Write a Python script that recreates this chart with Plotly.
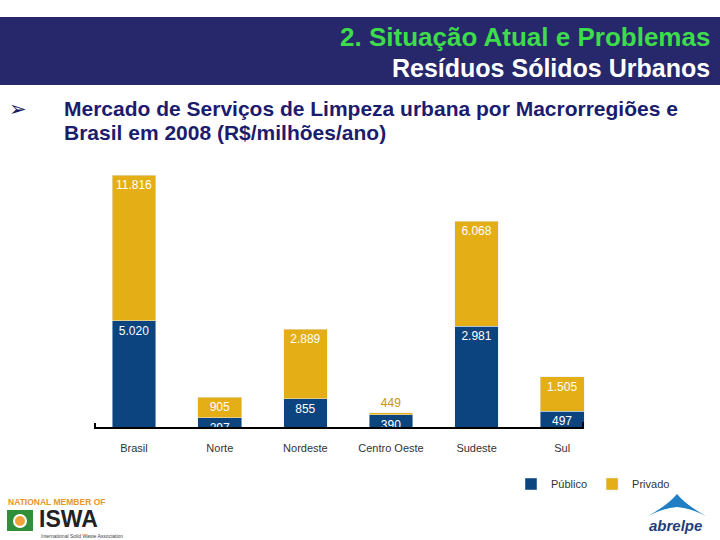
import plotly.graph_objects as go

# ---- data ----
regioes = ["Brasil", "Norte", "Nordeste", "Centro Oeste", "Sudeste", "Sul"]
publico = [5020, 297, 855, 390, 2981, 497]          # Público (R$ milhões/ano)
total = [11816, 905, 2889, 449, 6068, 1505]         # Total do mercado (rótulo no topo)
privado = [t - p for t, p in zip(total, publico)]   # Privado = total - público

AZUL = "#0b447e"
OURO = "#e4ae16"
NAVY = "#27276c"
W, H = 720, 540

def px(x):
    return x / W

def py(y):
    return 1 - y / H

fig = go.Figure()

# Brasil panel (x/y) and regions panel (x2/y2) -> broken scale like the original
panels = [(slice(0, 1), "x", "y"), (slice(1, 6), "x2", "y2")]
for i, (sl, xa, ya) in enumerate(panels):
    fig.add_trace(go.Bar(
        x=regioes[sl], y=publico[sl], name="Público", marker_color=AZUL,
        xaxis=xa, yaxis=ya, showlegend=(i == 0), legendgroup="pub",
        texttemplate="%{y:,.0f}", textposition="inside", insidetextanchor="end",
        textfont=dict(color="white", size=12, family="Liberation Sans"),
        hoverinfo="skip",
    ))
    tp = ["outside" if (t - p) < 150 else "inside" for t, p in zip(total[sl], publico[sl])]
    fig.add_trace(go.Bar(
        x=regioes[sl], y=privado[sl], name="Privado", marker_color=OURO,
        xaxis=xa, yaxis=ya, showlegend=(i == 0), legendgroup="pri",
        customdata=total[sl], texttemplate="%{customdata:,.0f}",
        textposition=tp, insidetextanchor="end",
        textfont=dict(color="white", size=12, family="Liberation Sans"),
        outsidetextfont=dict(color="#c9950c", size=12, family="Liberation Sans"),
        cliponaxis=False, hoverinfo="skip",
    ))

ydom = [py(428), py(170)]
axis_common = dict(showgrid=False, zeroline=False, showline=False,
                   ticks="outside", ticklen=10, tickcolor="rgba(0,0,0,0)",
                   tickfont=dict(size=11, color="#333333", family="Liberation Sans"))
fig.update_layout(
    width=W, height=H, margin=dict(l=0, r=0, t=0, b=0),
    paper_bgcolor="white", plot_bgcolor="white",
    barmode="stack", bargap=0.49, separators=",.",
    uniformtext=dict(minsize=12, mode="show"),
    xaxis=dict(domain=[px(91), px(177)], **axis_common),
    xaxis2=dict(domain=[px(177), px(605)], anchor="y2", **axis_common),
    yaxis=dict(domain=ydom, range=[0, 12050], visible=False),
    yaxis2=dict(domain=ydom, range=[0, 7563], visible=False, anchor="x2"),
    legend=dict(orientation="h", x=px(511), xanchor="left", y=py(484), yanchor="middle",
                font=dict(size=11, color="#333333", family="Liberation Sans"),
                bgcolor="rgba(0,0,0,0)", traceorder="normal"),
    showlegend=True,
)

# baseline with small end ticks
fig.add_shape(type="path", xref="paper", yref="paper",
              path=f"M {px(95)} {py(423)} L {px(95)} {py(428)} L {px(583)} {py(428)} L {px(583)} {py(422)}",
              line=dict(color="black", width=2))

# header band
fig.add_shape(type="rect", xref="paper", yref="paper", x0=0, x1=1, y0=py(85), y1=py(17),
              fillcolor=NAVY, line_width=0, layer="below")

ann = []
ann.append(dict(text="<b>2. Situação Atual e Problemas</b>", x=px(712), y=py(37),
                xanchor="right", yanchor="middle",
                font=dict(size=26, color="#3ddc4a", family="Liberation Sans")))
ann.append(dict(text="<b>Resíduos Sólidos Urbanos</b>", x=px(712), y=py(68),
                xanchor="right", yanchor="middle",
                font=dict(size=25, color="white", family="Liberation Sans")))
ann.append(dict(text="➢", x=px(7), y=py(109), xanchor="left", yanchor="middle",
                font=dict(size=21, color="#1a1a5e", family="DejaVu Sans")))
ann.append(dict(text="<b>Mercado de Serviços de Limpeza urbana por Macrorregiões e</b>",
                x=px(62), y=py(109), xanchor="left", yanchor="middle",
                font=dict(size=21, color="#1c1c6e", family="Liberation Sans")))
ann.append(dict(text="<b>Brasil em 2008 (R$/milhões/ano)</b>",
                x=px(62), y=py(133), xanchor="left", yanchor="middle",
                font=dict(size=21, color="#1c1c6e", family="Liberation Sans")))

# ISWA logo (text approximation)
ann.append(dict(text="<b>NATIONAL MEMBER OF</b>", x=px(6), y=py(502), xanchor="left", yanchor="middle",
                font=dict(size=8.5, color="#e8962a", family="Liberation Sans")))
ann.append(dict(text="<b>ISWA</b>", x=px(37), y=py(519), xanchor="left", yanchor="middle",
                font=dict(size=23, color="#222222", family="Liberation Sans")))
ann.append(dict(text="International Solid Waste Association", x=px(39), y=py(536), xanchor="left",
                yanchor="middle", font=dict(size=5, color="#444444", family="Liberation Sans")))
fig.add_shape(type="rect", xref="paper", yref="paper", x0=px(7), x1=px(33), y0=py(531), y1=py(510),
              fillcolor="#2f8f3a", line_width=0)
fig.add_shape(type="circle", xref="paper", yref="paper", x0=px(14), x1=px(26), y0=py(527), y1=py(515),
              fillcolor="#f2a33a", line=dict(color="white", width=2))

# abrelpe logo
fig.add_shape(type="path", xref="paper", yref="paper",
              path=f"M {px(648)} {py(516)} Q {px(668)} {py(505)} {px(677)} {py(494)} "
                   f"Q {px(686)} {py(505)} {px(706)} {py(516)} Q {px(690)} {py(508)} {px(677)} {py(507)} "
                   f"Q {px(664)} {py(508)} {px(648)} {py(516)} Z",
              fillcolor="#1f7ec4", line_width=0)
ann.append(dict(text="<b><i>abrelpe</i></b>", x=px(675), y=py(525), xanchor="center", yanchor="middle",
                font=dict(size=15, color="#1f3f7a", family="Liberation Sans")))

for a in ann:
    a.update(xref="paper", yref="paper", showarrow=False)
fig.update_layout(annotations=ann)

fig.write_html("out.html", config={"displayModeBar": False},
               post_script="document.body.style.margin='0';document.body.style.padding='0';")
